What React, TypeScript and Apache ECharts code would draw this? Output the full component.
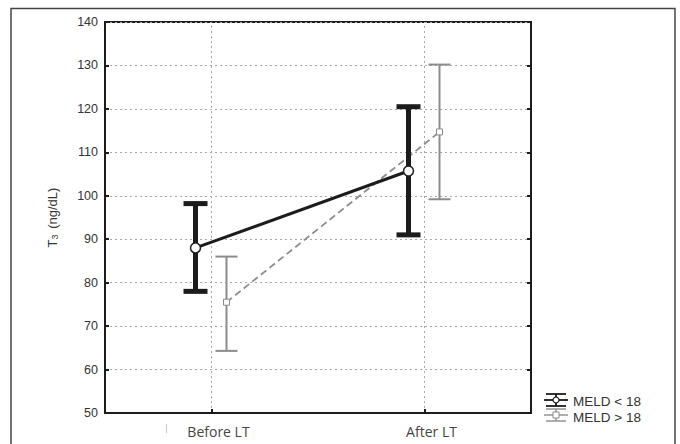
import React, { useEffect, useRef } from "react";
import * as echarts from "echarts";

const categories = ["Before LT", "After LT"];
const yTicks = [50, 60, 70, 80, 90, 100, 110, 120, 130, 140];

const meldLowName = "MELD < 18";
const meldLowMean = [88, 105.7];
const meldLowLower = [78, 91];
const meldLowUpper = [98.2, 120.5];

const meldHighName = "MELD > 18";
const meldHighMean = [75.5, 114.7];
const meldHighLower = [64.3, 99.2];
const meldHighUpper = [86, 130.2];

const BLACK = "#1c1c1c";
const GRAY = "#8c8c8c";

function buildData(mean: number[], lower: number[], upper: number[]) {
  return mean.map((m, i) => [i, m, lower[i], upper[i]]);
}

function makeRender(
  offset: number,
  means: number[],
  opts: {
    color: string;
    barWidth: number;
    capHalf: number;
    lineWidth: number;
    lineDash?: number[];
    marker: "circle" | "square";
  }
) {
  return (params: any, api: any) => {
    const i = api.value(0);
    const mid = api.coord([i, api.value(1)]);
    const lo = api.coord([i, api.value(2)]);
    const hi = api.coord([i, api.value(3)]);
    const x = mid[0] + offset;
    const children: any[] = [];
    if (params.dataIndex === 0 && means.length > 1) {
      const nxt = api.coord([1, means[1]]);
      children.push({
        type: "line",
        shape: { x1: x, y1: mid[1], x2: nxt[0] + offset, y2: nxt[1] },
        style: {
          stroke: opts.color,
          lineWidth: opts.lineWidth,
          lineDash: opts.lineDash,
          fill: "none",
        },
      });
    }
    children.push({
      type: "line",
      shape: { x1: x, y1: hi[1], x2: x, y2: lo[1] },
      style: { stroke: opts.color, lineWidth: opts.barWidth },
    });
    children.push({
      type: "line",
      shape: { x1: x - opts.capHalf, y1: hi[1], x2: x + opts.capHalf, y2: hi[1] },
      style: { stroke: opts.color, lineWidth: opts.barWidth },
    });
    children.push({
      type: "line",
      shape: { x1: x - opts.capHalf, y1: lo[1], x2: x + opts.capHalf, y2: lo[1] },
      style: { stroke: opts.color, lineWidth: opts.barWidth },
    });
    if (opts.marker === "circle") {
      children.push({
        type: "circle",
        shape: { cx: x, cy: mid[1], r: 5 },
        style: { fill: "#fff", stroke: opts.color, lineWidth: 1.5 },
      });
    } else {
      children.push({
        type: "rect",
        shape: { x: x - 3, y: mid[1] - 3, width: 6, height: 6 },
        style: { fill: "#fff", stroke: opts.color, lineWidth: 1 },
      });
    }
    return { type: "group", children };
  };
}

function legendIcon(cx: number, cy: number, color: string, marker: "circle" | "square", lw: number) {
  const els: any[] = [
    { type: "line", shape: { x1: cx - 10, y1: cy - 6, x2: cx + 10, y2: cy - 6 }, style: { stroke: color, lineWidth: lw } },
    { type: "line", shape: { x1: cx - 10, y1: cy + 6, x2: cx + 10, y2: cy + 6 }, style: { stroke: color, lineWidth: lw } },
    { type: "line", shape: { x1: cx, y1: cy - 6, x2: cx, y2: cy + 6 }, style: { stroke: color, lineWidth: lw } },
    { type: "line", shape: { x1: cx - 12, y1: cy, x2: cx + 12, y2: cy }, style: { stroke: color, lineWidth: lw } },
  ];
  if (marker === "circle") {
    els.push({ type: "circle", shape: { cx, cy, r: 3 }, style: { fill: "#fff", stroke: color, lineWidth: 1.2 } });
  } else {
    els.push({ type: "rect", shape: { x: cx - 3, y: cy - 3, width: 6, height: 6 }, style: { fill: "#fff", stroke: color, lineWidth: 1 } });
  }
  return els;
}

const SANS = "Liberation Sans, Arial, sans-serif";

export default function App() {
  const ref = useRef<HTMLDivElement>(null);
  useEffect(() => {
    if (!ref.current) return;
    const chart = echarts.init(ref.current, null, { renderer: "svg" });
    const gridLine = { color: "#a8a8a8", width: 1, type: [2, 3] as any };
    chart.setOption({
      animation: false,
      backgroundColor: "#fff",
      textStyle: { fontFamily: SANS },
      grid: {
        left: 105,
        top: 22,
        right: 149,
        bottom: 31,
        show: true,
        borderColor: BLACK,
        borderWidth: 2,
        containLabel: false,
      },
      xAxis: {
        type: "category",
        data: categories,
        boundaryGap: true,
        axisLine: { show: true, lineStyle: { color: BLACK, width: 2 } },
        axisTick: { show: true, inside: true, length: 4, alignWithLabel: true, lineStyle: { color: BLACK, width: 2 } },
        axisLabel: {
          color: "#444",
          fontSize: 14,
          fontFamily: "Open Sans, sans-serif",
          margin: 11,
          padding: [0, 0, 0, 14],
        },
        splitLine: { show: false },
      },
      yAxis: [
        {
          type: "value",
          min: yTicks[0],
          max: yTicks[yTicks.length - 1],
          interval: 10,
          name: "{t|T}{s|3}{t| (ng/dL)}",
          nameLocation: "middle",
          nameGap: 46,
          nameRotate: 90,
          nameTextStyle: {
            color: "#333",
            fontSize: 13,
            rich: {
              t: { fontSize: 13, color: "#333", fontFamily: SANS },
              s: { fontSize: 9, color: "#333", verticalAlign: "bottom", padding: [5, 2, 0, 0], fontFamily: SANS },
            },
          },
          axisLine: { show: true, lineStyle: { color: BLACK, width: 2 } },
          axisTick: { show: true, inside: true, length: 4, lineStyle: { color: BLACK, width: 2 } },
          axisLabel: { color: "#333", fontSize: 12.5, margin: 7, fontFamily: SANS },
          splitLine: { show: true, lineStyle: gridLine },
        },
        {
          type: "value",
          position: "right",
          min: yTicks[0],
          max: yTicks[yTicks.length - 1],
          interval: 10,
          axisLine: { show: true, lineStyle: { color: BLACK, width: 2 } },
          axisTick: { show: true, inside: true, length: 4, lineStyle: { color: BLACK, width: 2 } },
          axisLabel: { show: false },
          splitLine: { show: false },
        },
      ],
      series: [
        {
          name: meldHighName,
          type: "custom",
          clip: false,
          data: buildData(meldHighMean, meldHighLower, meldHighUpper),
          renderItem: makeRender(15, meldHighMean, {
            color: GRAY,
            barWidth: 2,
            capHalf: 11,
            lineWidth: 1.8,
            lineDash: [7, 4],
            marker: "square",
          }),
          markLine: {
            silent: true,
            symbol: ["none", "none"],
            label: { show: false },
            lineStyle: gridLine,
            z: 0,
            data: categories.map((c) => ({ xAxis: c })),
          },
          z: 2,
        },
        {
          name: meldLowName,
          type: "custom",
          clip: false,
          data: buildData(meldLowMean, meldLowLower, meldLowUpper),
          renderItem: makeRender(-16, meldLowMean, {
            color: BLACK,
            barWidth: 5,
            capHalf: 12,
            lineWidth: 3,
            marker: "circle",
          }),
          z: 3,
        },
      ],
      graphic: [
        {
          type: "rect",
          silent: true,
          shape: { x: 11, y: 8.5, width: 664, height: 460 },
          style: { fill: "none", stroke: "#444", lineWidth: 1.5 },
        },
        {
          type: "line",
          silent: true,
          shape: { x1: 166.5, y1: 424, x2: 166.5, y2: 433 },
          style: { stroke: "#c8c8c8", lineWidth: 1 },
        },
        ...legendIcon(556, 400, BLACK, "circle", 1.8),
        ...legendIcon(556, 415, GRAY, "square", 1.4),
        {
          type: "text",
          x: 573,
          y: 401,
          style: { text: meldLowName, fill: "#333", fontSize: 13.5, fontFamily: SANS, verticalAlign: "middle" },
        },
        {
          type: "text",
          x: 573,
          y: 417,
          style: { text: meldHighName, fill: "#333", fontSize: 13.5, fontFamily: SANS, verticalAlign: "middle" },
        },
      ],
    });
    return () => chart.dispose();
  }, []);
  return <div ref={ref} style={{ position: "fixed", left: 0, top: 0, width: 680, height: 444 }} />;
}
